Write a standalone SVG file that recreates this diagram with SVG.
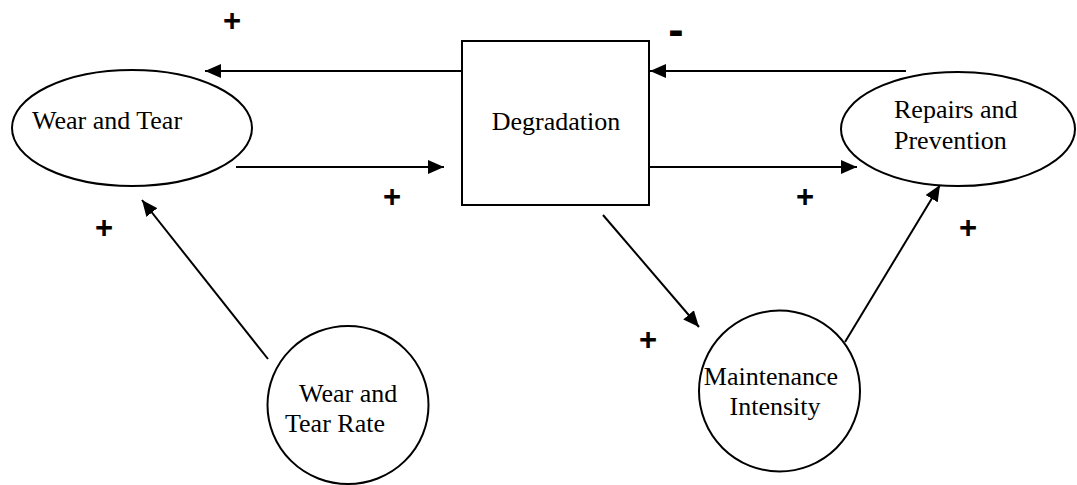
<svg xmlns="http://www.w3.org/2000/svg" width="1077" height="485" viewBox="0 0 1077 485">
<style>
.shape{fill:#fff;stroke:#000;stroke-width:2}
.lbl{font-family:"Liberation Serif","Times New Roman",serif;font-size:26px;fill:#000}
.sign{font-family:"Liberation Sans",Arial,sans-serif;font-weight:bold;fill:#000;text-anchor:middle}
.edge{stroke:#000;stroke-width:2;fill:none;marker-end:url(#ah)}
</style>
<defs>
<marker id="ah" markerUnits="userSpaceOnUse" markerWidth="16" markerHeight="14" refX="16" refY="7" orient="auto">
<path d="M0,0 L16,7 L0,14 z" fill="#000"/>
</marker>
</defs>
<rect width="1077" height="485" fill="#fff"/>
<g id="connectors">
<line class="edge" x1="462" y1="71" x2="205" y2="71"/>
<line class="edge" x1="236" y1="167" x2="444" y2="167"/>
<line class="edge" x1="906" y1="71" x2="650" y2="71"/>
<line class="edge" x1="649" y1="167" x2="857" y2="167"/>
<line class="edge" x1="268" y1="359" x2="142" y2="200"/>
<line class="edge" x1="603" y1="215" x2="699" y2="327"/>
<line class="edge" x1="845" y1="342" x2="940" y2="185"/>
</g>
<g id="wear-and-tear">
<ellipse class="shape" cx="132" cy="128" rx="120" ry="58"/>
<text class="lbl" x="32" y="129">Wear and Tear</text>
</g>
<g id="degradation">
<rect class="shape" x="462" y="41" width="187" height="164"/>
<text class="lbl" x="556" y="130" text-anchor="middle">Degradation</text>
</g>
<g id="repairs-and-prevention">
<ellipse class="shape" cx="958" cy="129" rx="117" ry="57"/>
<text class="lbl" x="894" y="118">Repairs and</text>
<text class="lbl" x="894" y="149">Prevention</text>
</g>
<g id="wear-and-tear-rate">
<ellipse class="shape" cx="348" cy="405" rx="80.5" ry="79"/>
<text class="lbl" x="299" y="402">Wear and</text>
<text class="lbl" x="285" y="432">Tear Rate</text>
</g>
<g id="maintenance-intensity">
<circle class="shape" cx="779.5" cy="391" r="80.5"/>
<text class="lbl" x="771" y="385" text-anchor="middle">Maintenance</text>
<text class="lbl" x="775" y="415" text-anchor="middle">Intensity</text>
</g>
<g id="signs">
<text class="sign" x="232" y="31" font-size="31">+</text>
<text class="sign" x="392" y="207" font-size="31">+</text>
<text class="sign" x="104" y="238" font-size="31">+</text>
<text class="sign" x="648" y="350" font-size="31">+</text>
<text class="sign" x="805" y="207" font-size="31">+</text>
<text class="sign" x="968" y="238" font-size="31">+</text>
<text class="sign" x="676" y="45" font-size="46">-</text>
</g>
</svg>
